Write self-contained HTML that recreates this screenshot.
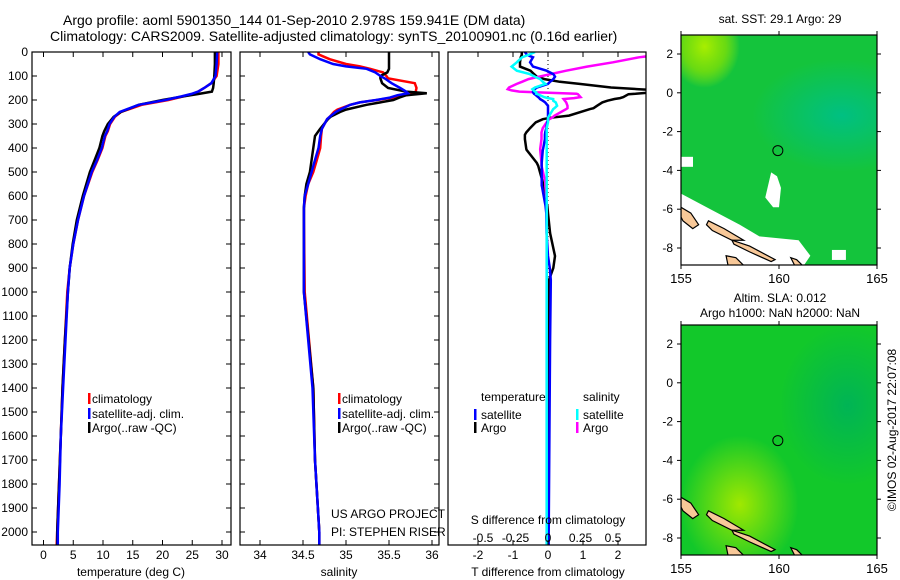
<!DOCTYPE html>
<html><head><meta charset="utf-8"><style>
body{margin:0;background:#fff;}
svg{display:block;font-family:"Liberation Sans",sans-serif;}
text{fill:#000;}
</style></head><body>
<svg id="c" width="900" height="580" viewBox="0 0 900 580" xmlns="http://www.w3.org/2000/svg">
<defs>
<clipPath id="cp1"><rect x="32" y="52" width="199" height="493"/></clipPath>
<clipPath id="cp2"><rect x="240" y="52" width="199" height="493"/></clipPath>
<clipPath id="cp3"><rect x="448" y="52" width="198" height="493"/></clipPath>
<clipPath id="cm1"><rect x="681" y="35" width="196" height="230"/></clipPath>
<clipPath id="cm2"><rect x="681" y="325" width="196" height="230"/></clipPath>
<radialGradient id="g1a" cx="0.12" cy="0.05" r="0.18"><stop offset="0" stop-color="#a8ee00"/><stop offset="0.6" stop-color="#8ee400" stop-opacity="0.7"/><stop offset="1" stop-color="#a8ee00" stop-opacity="0"/></radialGradient>
<radialGradient id="g1b" cx="0.82" cy="0.35" r="0.35" gradientTransform="translate(0.82 0.35) scale(1.3 0.7) translate(-0.82 -0.35)"><stop offset="0" stop-color="#00c082"/><stop offset="1" stop-color="#00c082" stop-opacity="0"/></radialGradient>
<radialGradient id="g2a" cx="0.3" cy="0.78" r="0.3"><stop offset="0" stop-color="#a0e800"/><stop offset="1" stop-color="#a0e800" stop-opacity="0"/></radialGradient>
<radialGradient id="g2b" cx="0.85" cy="0.35" r="0.35"><stop offset="0" stop-color="#00b455"/><stop offset="1" stop-color="#00b455" stop-opacity="0"/></radialGradient>
</defs>
<text x="63" y="25" font-size="14">Argo profile: aoml 5901350_144 01-Sep-2010 2.978S 159.941E (DM data)</text>
<text x="50" y="41" font-size="14">Climatology: CARS2009. Satellite-adjusted climatology: synTS_20100901.nc (0.16d earlier)</text>
<g id="p1"></g>
<g id="p2"></g>
<g id="p3"></g>
<g id="m1"></g>
<g id="m2"></g>
<text x="780" y="23" font-size="12" text-anchor="middle">sat. SST: 29.1 Argo: 29</text>
<text x="780" y="302" font-size="12" text-anchor="middle">Altim. SLA: 0.012</text>
<text x="780" y="317" font-size="12" text-anchor="middle">Argo h1000: NaN h2000: NaN</text>
<text transform="translate(896,430) rotate(-90)" font-size="12" text-anchor="middle">©IMOS 02-Aug-2017 22:07:08</text>
</svg>
<script>
const NS="http://www.w3.org/2000/svg";
// ---- data ----
const depthTicks=[0,100,200,300,400,500,600,700,800,900,1000,1100,1200,1300,1400,1500,1600,1700,1800,1900,2000];
const tempTicks=[0,5,10,15,20,25,30];
const salTicks=[34,34.5,35,35.5,36];
const salTickLabels=["34","34.5","35","35.5","36"];
const tdTicks=[-2,-1,0,1,2];
const sdTicks=[-0.5,-0.25,0,0.25,0.5];
const sdTickLabels=["-0.5","-0.25","0","0.25","0.5"];
const tDepth=[0,50,100,130,150,165,175,185,200,220,250,270,300,330,350,400,450,500,600,700,800,900,1000,1200,1400,1600,1800,2000,2060];
const tArgo=[28.8,28.8,28.7,28.6,28.5,28.3,26,23.5,20,16,13,11.8,10.8,10.2,9.9,9.4,8.6,7.8,6.6,5.6,4.9,4.4,4.1,3.6,3.2,2.9,2.6,2.3,2.3];
const tClim=[29.4,29.4,29.1,28.2,27,26,25,23.5,21,16.5,13,12,11.2,10.8,10.4,9.9,9.1,8.2,6.8,5.8,5.0,4.4,4.0,3.6,3.2,2.9,2.6,2.3,2.2];
const tSat=[29.2,29.1,28.9,28.2,27,26,24.8,23.2,20.5,16,12.8,11.9,11.1,10.7,10.3,9.8,9.0,8.1,6.8,5.8,5.0,4.4,4.1,3.7,3.3,2.9,2.7,2.4,2.4];
const sDepth=[0,10,30,50,60,70,85,100,110,130,150,165,172,180,190,200,210,220,240,250,270,280,320,350,400,450,500,550,600,650,700,1000,1400,1700,2000,2060];
const sArgo=[35.50,35.50,35.50,35.50,35.50,35.50,35.48,35.40,35.40,35.42,35.49,35.70,35.94,35.70,35.62,35.55,35.40,35.24,35.0,34.93,34.82,34.79,34.70,34.64,34.62,34.60,34.58,34.54,34.52,34.51,34.51,34.51,34.62,34.64,34.69,34.69];
const sClim=[34.68,34.68,34.81,35.0,35.16,35.28,35.43,35.47,35.49,35.80,35.82,35.81,35.80,35.7,35.55,35.36,35.16,35.05,34.9,34.86,34.81,34.78,34.72,34.71,34.70,34.66,34.62,34.56,34.53,34.51,34.51,34.52,34.62,34.64,34.69,34.69];
const sSat=[34.56,34.58,34.70,34.85,35.0,35.24,35.34,35.40,35.45,35.53,35.63,35.70,35.72,35.6,35.51,35.35,35.16,35.05,34.93,34.88,34.81,34.78,34.72,34.70,34.68,34.64,34.60,34.56,34.52,34.51,34.51,34.51,34.61,34.64,34.69,34.69];
const dDepth=[0,12,22,43,61,78,92,103,113,124,133,148,155,160,165,168,174,176,188,192,196,203,210,224,234,238,265,274,280,293,317,335,345,363,404,408,462,474,543,557,561,627,640,672,755,850,900,950,1200,1600,2000,2060];
const dTArgo=[-0.75,-0.75,-0.78,-0.8,-0.8,-0.5,-0.4,-0.32,-0.1,0.34,0.9,1.8,2.6,3.2,3.2,3.0,2.5,2.3,2.15,2.06,1.9,1.7,1.55,1.4,1.3,1.2,0.6,0.06,-0.15,-0.35,-0.51,-0.62,-0.66,-0.66,-0.62,-0.61,-0.32,-0.28,-0.15,-0.14,-0.14,-0.05,-0.02,0,0.06,0.2,0.15,0.03,0.0,0.0,0.0,0.0];
const dTSat=[-0.66,-0.6,-0.43,-0.51,-0.43,-0.04,0.15,0.2,0.15,0.06,0.0,-0.32,-0.38,-0.42,-0.43,-0.43,-0.4,-0.38,-0.28,-0.25,-0.23,-0.15,-0.08,0,0,0,0,0,0,-0.02,-0.05,-0.08,-0.09,-0.09,-0.14,-0.15,-0.18,-0.18,-0.18,-0.18,-0.17,-0.09,-0.07,-0.05,-0.04,0.0,0.05,0.08,0.06,0.04,0.02,0.02];
const dSSat=[-0.1,-0.15,-0.2,-0.24,-0.28,-0.24,-0.14,-0.1,-0.06,-0.04,-0.02,-0.1,-0.12,-0.11,-0.1,-0.09,-0.09,-0.08,-0.03,0.0,0.04,0.04,0.06,0.07,0.05,0.04,0.01,0,0,0,-0.01,-0.01,-0.01,-0.01,-0.01,-0.01,-0.01,-0.01,-0.01,-0.01,-0.01,-0.01,-0.01,-0.01,-0.01,-0.01,-0.01,-0.01,-0.01,-0.01,-0.01,-0.01];
const dSArgo=[1.0,0.85,0.7,0.5,0.3,0.14,0.02,-0.07,-0.15,-0.2,-0.24,-0.3,-0.31,-0.28,-0.22,-0.1,0.22,0.23,0.25,0.2,0.12,0.13,0.14,0.15,0.15,0.14,0.05,0.03,0.01,-0.01,-0.04,-0.05,-0.05,-0.05,-0.06,-0.06,-0.05,-0.05,-0.02,-0.02,-0.02,-0.01,-0.01,-0.01,-0.01,-0.01,-0.01,-0.01,-0.01,-0.01,-0.01,-0.01];
const mapLonTicks=[155,160,165];
const mapLatTicks=[2,0,-2,-4,-6,-8];
const argoLon=159.941, argoLat=-2.978;
// ---- scales ----
const yD=d=>52+d*0.24;
const xT=t=>43.5+t*5.95;
const xS=s=>260+(s-34)*86;
const xTd=v=>548+v*35;
const xSd=v=>548+v*130;
const mx=lon=>681+(lon-155)*19.6;
const my=(lat,off)=>54+off+(2-lat)*19.4;
function el(tag,attrs,parent,txt){const e=document.createElementNS(NS,tag);for(const k in attrs)e.setAttribute(k,attrs[k]);if(txt!==undefined)e.textContent=txt;parent.appendChild(e);return e;}
function line(g,xs,ds,fx,color,w,clip,name){
  const pts=xs.map((v,i)=>fx(v).toFixed(1)+","+yD(ds[i]).toFixed(1)).join(" ");
  const p=el("polyline",{points:pts,fill:"none",stroke:color,"stroke-width":w,"clip-path":"url(#"+clip+")"},g);
  
  
}
function frame(g,x,y,w,h,name){const r=el("rect",{x:x,y:y,width:w,height:h,fill:"none",stroke:"#000","stroke-width":1.2},g);
  
  }
function txt(g,x,y,s,anchor,size,name){const t=el("text",{x:x,y:y,"font-size":size||12,"text-anchor":anchor||"start"},g,s);
  
  return t;}
function xticks(g,vals,labels,fx,top,bot,ly,name){
  vals.forEach((v,i)=>{const x=fx(v);
    el("line",{x1:x,x2:x,y1:bot,y2:bot-5,stroke:"#000"},g);
    el("line",{x1:x,x2:x,y1:top,y2:top+5,stroke:"#000"},g);
    if(ly)txt(g,x,ly,labels[i],"middle",12,name);});
}
function ydticks(g,x0,x1,lab){
  depthTicks.forEach(d=>{const y=yD(d);
    el("line",{x1:x0,x2:x0+5,y1:y,y2:y,stroke:"#000"},g);
    el("line",{x1:x1,x2:x1-5,y1:y,y2:y,stroke:"#000"},g);
    if(lab)txt(g,28,y+4,String(d),"end",12,"depth-tick-label");});
}
function legBar(g,x,y,color){const r=el("rect",{x:x,y:y-10,width:2.5,height:11,fill:color},g);
  
  }
// ---- panel 1 ----
const p1=document.getElementById("p1");
line(p1,tClim,tDepth,xT,"#f00",2.5,"cp1","temp-climatology-line");
line(p1,tArgo,tDepth,xT,"#000",2.5,"cp1","temp-argo-line");
line(p1,tSat,tDepth,xT,"#00f",2.5,"cp1","temp-satellite-line");
frame(p1,32,52,199,493,"temperature-axes");
ydticks(p1,32,231,true);
xticks(p1,tempTicks,tempTicks.map(String),xT,52,545,559,"temperature-tick-label");
txt(p1,131,576,"temperature (deg C)","middle",12,"temperature-axis-title");
legBar(p1,88,403,"#f00");txt(p1,92,403,"climatology","start",12,"legend-climatology");
legBar(p1,88,418,"#00f");txt(p1,92,418,"satellite-adj. clim.","start",12,"legend-satellite");
legBar(p1,88,432,"#000");txt(p1,92,432,"Argo(..raw -QC)","start",12,"legend-argo");
// ---- panel 2 ----
const p2=document.getElementById("p2");
line(p2,sClim,sDepth,xS,"#f00",2.5,"cp2","sal-climatology-line");
line(p2,sArgo,sDepth,xS,"#000",2.5,"cp2","sal-argo-line");
line(p2,sSat,sDepth,xS,"#00f",2.5,"cp2","sal-satellite-line");
frame(p2,240,52,199,493,"salinity-axes");
ydticks(p2,240,439,false);
xticks(p2,salTicks,salTickLabels,xS,52,545,559,"salinity-tick-label");
txt(p2,339,576,"salinity","middle",12,"salinity-axis-title");
legBar(p2,338,403,"#f00");txt(p2,342,403,"climatology","start",12,"legend-climatology-2");
legBar(p2,338,418,"#00f");txt(p2,342,418,"satellite-adj. clim.","start",12,"legend-satellite-2");
legBar(p2,338,432,"#000");txt(p2,342,432,"Argo(..raw -QC)","start",12,"legend-argo-2");
txt(p2,331,518,"US ARGO PROJECT","start",12,"project-label");
txt(p2,331,536,"PI: STEPHEN RISER","start",12,"pi-label");
// ---- panel 3 ----
const p3=document.getElementById("p3");
for(let y=52;y<545;y+=4){el("rect",{x:547.5,y:y,width:1,height:1,fill:"#000"},p3);}
line(p3,dTArgo,dDepth,xTd,"#000",2.5,"cp3","tdiff-argo-line");
line(p3,dSArgo,dDepth,xSd,"#f0f",2.5,"cp3","sdiff-argo-line");
line(p3,dTSat,dDepth,xTd,"#00f",2.5,"cp3","tdiff-satellite-line");
line(p3,dSSat,dDepth,xSd,"#0ff",2.5,"cp3","sdiff-satellite-line");
frame(p3,448,52,198,493,"difference-axes");
xticks(p3,tdTicks,tdTicks.map(String),xTd,52,545,559,"tdiff-tick-label");
sdTicks.forEach((v,i)=>txt(p3,xSd(v),542,sdTickLabels[i],"middle",12,"sdiff-tick-label"));
txt(p3,548,524,"S difference from climatology","middle",12,"sdiff-axis-title");
txt(p3,548,576,"T difference from climatology","middle",12,"tdiff-axis-title");
txt(p3,481,401,"temperature","start",12,"legend-temperature-head");
txt(p3,583,401,"salinity","start",12,"legend-salinity-head");
legBar(p3,474,419,"#00f");txt(p3,481,419,"satellite","start",12,"legend-t-satellite");
legBar(p3,474,432,"#000");txt(p3,481,432,"Argo","start",12,"legend-t-argo");
legBar(p3,576,419,"#0ff");txt(p3,583,419,"satellite","start",12,"legend-s-satellite");
legBar(p3,576,432,"#f0f");txt(p3,583,432,"Argo","start",12,"legend-s-argo");
// ---- maps ----
const land=[
 [[155,-5.9],[155.5,-6.2],[155.9,-6.8],[155.6,-7],[155.1,-6.6],[155,-6.4]],
 [[156.4,-6.6],[157.2,-7.0],[158.2,-7.6],[157.6,-7.6],[156.6,-7.1],[156.3,-6.8]],
 [[157.6,-7.6],[158.5,-7.9],[159.8,-8.6],[159.6,-8.7],[158.5,-8.2],[157.7,-7.8]],
 [[157.3,-8.4],[157.8,-8.5],[158.2,-8.9],[157.4,-8.9]],
 [[160.6,-8.5],[160.9,-8.6],[161.2,-8.9],[160.8,-8.9]]
];
function drawMap(id,off,clip,base,gA,gB,white){
  const g=document.getElementById(id);
  const cg=el("g",{"clip-path":"url(#"+clip+")"},g);
  el("rect",{x:681,y:35+off,width:196,height:230,fill:base},cg);
  el("rect",{x:681,y:35+off,width:196,height:230,fill:"url(#"+gA+")"},cg);
  el("rect",{x:681,y:35+off,width:196,height:230,fill:"url(#"+gB+")"},cg);
  if(white){
    const wp=[[155,-5.2],[156.5,-6],[158,-6.8],[159,-7.4],[161,-7.6],[161.6,-8.4],[161.2,-9],[155,-9]];
    el("polygon",{points:wp.map(p=>mx(p[0])+","+my(p[1],off)).join(" "),fill:"#fff"},cg);
    el("polygon",{points:[[159.6,-4.1],[159.9,-4.3],[160.1,-4.9],[160.0,-5.9],[159.7,-5.9],[159.3,-5.4]].map(p=>mx(p[0])+","+my(p[1],off)).join(" "),fill:"#fff"},cg);
    el("rect",{x:mx(155),y:my(-3.3,off),width:12,height:10,fill:"#fff"},cg);
    el("rect",{x:mx(162.7),y:my(-8.1,off),width:14,height:10,fill:"#fff"},cg);
  }
  land.forEach(poly=>{const p=el("polygon",{points:poly.map(q=>mx(q[0])+","+my(q[1],off)).join(" "),fill:"#f8c898",stroke:"#000","stroke-width":1.2},cg);
    
    });
  const c=el("circle",{cx:mx(argoLon),cy:my(argoLat,off),r:5,fill:"none",stroke:"#000","stroke-width":1},g);
  
  
  frame(g,681,35+off,196,230,"map-frame");
  mapLonTicks.forEach(l=>{const x=mx(l);
    el("line",{x1:x,x2:x,y1:35+off,y2:31+off,stroke:"#000"},g);
    el("line",{x1:x,x2:x,y1:265+off,y2:269+off,stroke:"#000"},g);
    txt(g,x,283+off,String(l),"middle",13,"map-lon-tick-label");});
  mapLatTicks.forEach(l=>{const y=my(l,off);
    el("line",{x1:681,x2:677,y1:y,y2:y,stroke:"#000"},g);
    el("line",{x1:877,x2:881,y1:y,y2:y,stroke:"#000"},g);
    txt(g,673,y+4,String(l),"end",12,"map-lat-tick-label");});
}
drawMap("m1",0,"cm1","#14c43c","g1a","g1b",true);
drawMap("m2",290,"cm2","#12c82a","g2a","g2b",false);
</script>
</body></html>
